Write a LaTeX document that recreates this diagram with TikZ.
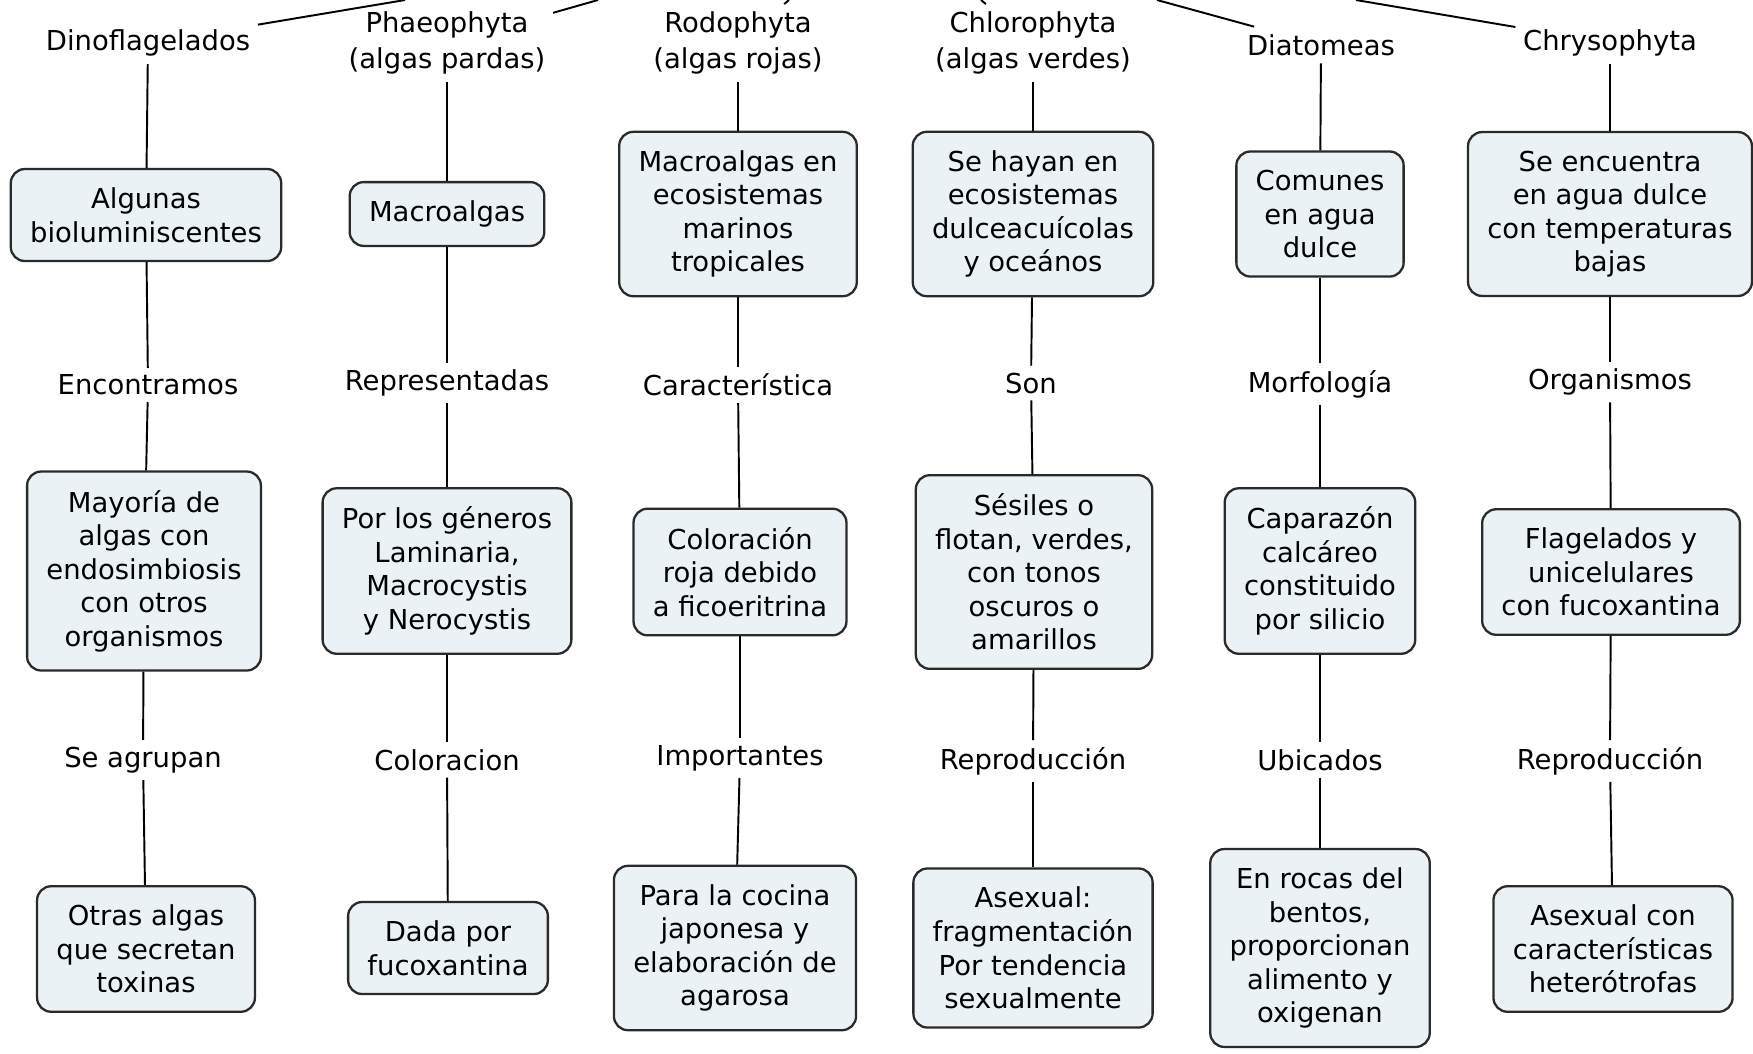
\documentclass[tikz,border=0pt]{standalone}
\usepackage{fontspec}
\setmainfont{DejaVu Sans}
\usepackage{xcolor}
\usepackage{tikz}
\definecolor{mapfill}{HTML}{EBF2F6}
\definecolor{mapborder}{HTML}{2A2A2A}
\newcommand{\mapfont}{\fontsize{7.8}{9.53}\selectfont}
\newcommand{\phylumfont}{\fontsize{7.8}{10.2}\selectfont}
\tikzset{
concept/.style={
draw=mapborder,
fill=mapfill,
rounded corners=4pt,
line width=0.65pt,
align=center,
font=\mapfont,
inner xsep=5.5pt,
inner ysep=5.3pt
},
phylum/.style={
align=center,
font=\phylumfont,
inner sep=2pt
},
linkword/.style={
fill=white,
font=\mapfont,
inner sep=1.8pt
},
connector/.style={
draw=black,
line width=0.55pt
}
}

\begin{document}
\begin{tikzpicture}[x=0.01cm, y=-0.01cm]
\useasboundingbox (0,0) rectangle (1753,1053);
\fill[white] (0,0) rectangle (1753,1053);

% column 1, dinoflagelados
\node[phylum] (dino) at (148,43) {Dinoflagelados};
\node[concept] (dino1) at (146,215) {Algunas\\bioluminiscentes};
\node[linkword] (dino-a) at (148,385) {Encontramos};
\node[concept] (dino2) at (144,571) {Mayoría de\\algas con\\endosimbiosis\\con otros\\organismos};
\node[linkword] (dino-b) at (143,760) {Se agrupan};
\node[concept] (dino3) at (146,949) {Otras algas\\que secretan\\toxinas};

% column 2, phaeophyta
\node[phylum] (phaeo) at (447,43) {Phaeophyta\\(algas pardas)};
\node[concept] (phaeo1) at (447,214) {Macroalgas};
\node[linkword] (phaeo-a) at (447,383) {Representadas};
\node[concept] (phaeo2) at (447,571) {Por los géneros\\Laminaria,\\Macrocystis\\y Nerocystis};
\node[linkword] (phaeo-b) at (447,760) {Coloracion};
\node[concept] (phaeo3) at (448,948) {Dada por\\fucoxantina};

% column 3, rodophyta
\node[phylum] (rodo) at (738,43) {Rodophyta\\(algas rojas)};
\node[concept] (rodo1) at (738,214) {Macroalgas en\\ecosistemas\\marinos\\tropicales};
\node[linkword] (rodo-a) at (738,385) {Característica};
\node[concept] (rodo2) at (740,572) {Coloración\\roja debido\\a ficoeritrina};
\node[linkword] (rodo-b) at (740,758) {Importantes};
\node[concept] (rodo3) at (735,948) {Para la cocina\\japonesa y\\elaboración de\\agarosa};

% column 4, chlorophyta
\node[phylum] (chloro) at (1033,43) {Chlorophyta\\(algas verdes)};
\node[concept] (chloro1) at (1033,214) {Se hayan en\\ecosistemas\\dulceacuícolas\\y oceános};
\node[linkword] (chloro-a) at (1031,383) {Son};
\node[concept] (chloro2) at (1034,572) {Sésiles o\\flotan, verdes,\\con tonos\\oscuros o\\amarillos};
\node[linkword] (chloro-b) at (1033,761) {Reproducción};
\node[concept] (chloro3) at (1033,948) {Asexual:\\fragmentación\\Por tendencia\\sexualmente};

% column 5, diatomeas
\node[phylum] (diato) at (1321,45) {Diatomeas};
\node[concept] (diato1) at (1320,214) {Comunes\\en agua\\dulce};
\node[linkword] (diato-a) at (1320,384) {Morfología};
\node[concept] (diato2) at (1320,571) {Caparazón\\calcáreo\\constituido\\por silicio};
\node[linkword] (diato-b) at (1320,760) {Ubicados};
\node[concept] (diato3) at (1320,948) {En rocas del\\bentos,\\proporcionan\\alimento y\\oxigenan};

% column 6, chrysophyta
\node[phylum] (chryso) at (1610,43) {Chrysophyta};
\node[concept] (chryso1) at (1610,214) {Se encuentra\\en agua dulce\\con temperaturas\\bajas};
\node[linkword] (chryso-a) at (1610,382) {Organismos};
\node[concept] (chryso2) at (1611,572) {Flagelados y\\unicelulares\\con fucoxantina};
\node[linkword] (chryso-b) at (1610,761) {Reproducción};
\node[concept] (chryso3) at (1613,949) {Asexual con\\características\\heterótrofas};

% lines up to the cut-off top
\foreach \c/\t in {dino/405, phaeo/598, rodo/789, chloro/981, diato/1157, chryso/1356} {
  \coordinate (\c-top) at (\t,0);
  \draw[connector] (\c) -- (\c-top);
}

\foreach \c in {dino, phaeo, rodo, chloro, diato, chryso} {
  \draw[connector] (\c) -- (\c1);
  \draw[connector] (\c1) -- (\c-a);
  \draw[connector] (\c-a) -- (\c2);
  \draw[connector] (\c2) -- (\c-b);
  \draw[connector] (\c-b) -- (\c3);
}

\end{tikzpicture}
\end{document}
